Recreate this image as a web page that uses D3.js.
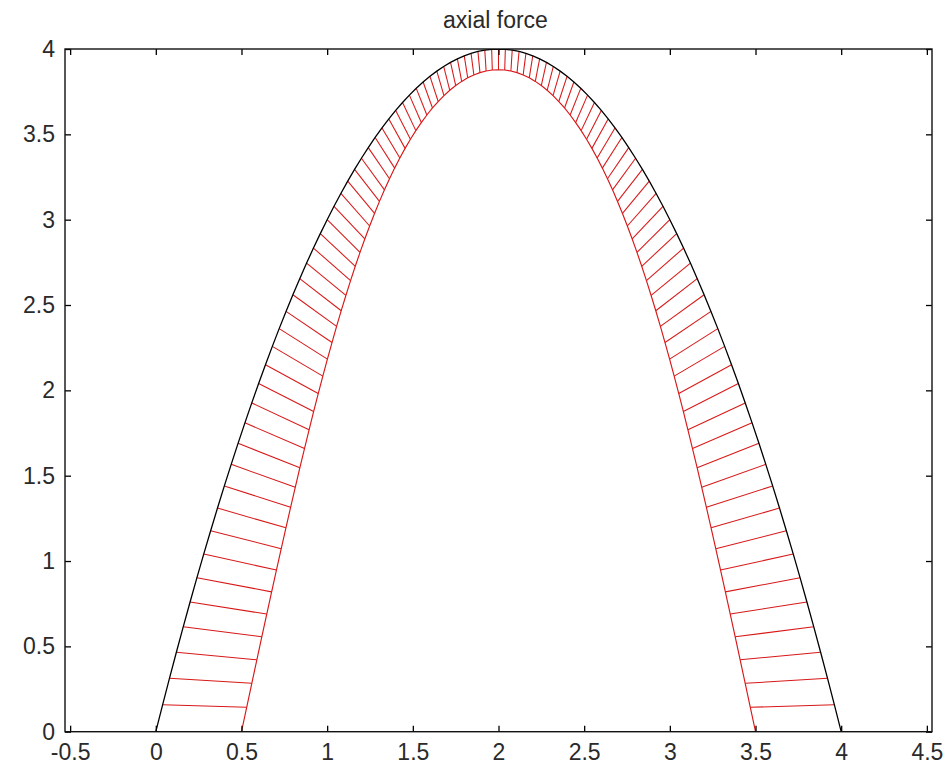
<!DOCTYPE html>
<html>
<head>
<meta charset="utf-8">
<script src="https://cdn.jsdelivr.net/npm/d3@7"></script>
<style>
  html, body { margin: 0; background: #fff; }
  svg { display: block; font-family: Arial, "Liberation Sans", Helvetica, sans-serif; }
</style>
</head>
<body>
<svg id="chart" width="948" height="770"></svg>
<script>
// Parabolic arch centre line, sampled every 0.04 along the span
const archX = [
  0.00, 0.04, 0.08, 0.12, 0.16, 0.20, 0.24, 0.28, 0.32, 0.36,
  0.40, 0.44, 0.48, 0.52, 0.56, 0.60, 0.64, 0.68, 0.72, 0.76,
  0.80, 0.84, 0.88, 0.92, 0.96, 1.00, 1.04, 1.08, 1.12, 1.16,
  1.20, 1.24, 1.28, 1.32, 1.36, 1.40, 1.44, 1.48, 1.52, 1.56,
  1.60, 1.64, 1.68, 1.72, 1.76, 1.80, 1.84, 1.88, 1.92, 1.96,
  2.00, 2.04, 2.08, 2.12, 2.16, 2.20, 2.24, 2.28, 2.32, 2.36,
  2.40, 2.44, 2.48, 2.52, 2.56, 2.60, 2.64, 2.68, 2.72, 2.76,
  2.80, 2.84, 2.88, 2.92, 2.96, 3.00, 3.04, 3.08, 3.12, 3.16,
  3.20, 3.24, 3.28, 3.32, 3.36, 3.40, 3.44, 3.48, 3.52, 3.56,
  3.60, 3.64, 3.68, 3.72, 3.76, 3.80, 3.84, 3.88, 3.92, 3.96,
  4.00
];
const archY = [
  0.0000, 0.1584, 0.3136, 0.4656, 0.6144, 0.7600, 0.9024, 1.0416, 1.1776, 1.3104,
  1.4400, 1.5664, 1.6896, 1.8096, 1.9264, 2.0400, 2.1504, 2.2576, 2.3616, 2.4624,
  2.5600, 2.6544, 2.7456, 2.8336, 2.9184, 3.0000, 3.0784, 3.1536, 3.2256, 3.2944,
  3.3600, 3.4224, 3.4816, 3.5376, 3.5904, 3.6400, 3.6864, 3.7296, 3.7696, 3.8064,
  3.8400, 3.8704, 3.8976, 3.9216, 3.9424, 3.9600, 3.9744, 3.9856, 3.9936, 3.9984,
  4.0000, 3.9984, 3.9936, 3.9856, 3.9744, 3.9600, 3.9424, 3.9216, 3.8976, 3.8704,
  3.8400, 3.8064, 3.7696, 3.7296, 3.6864, 3.6400, 3.5904, 3.5376, 3.4816, 3.4224,
  3.3600, 3.2944, 3.2256, 3.1536, 3.0784, 3.0000, 2.9184, 2.8336, 2.7456, 2.6544,
  2.5600, 2.4624, 2.3616, 2.2576, 2.1504, 2.0400, 1.9264, 1.8096, 1.6896, 1.5664,
  1.4400, 1.3104, 1.1776, 1.0416, 0.9024, 0.7600, 0.6144, 0.4656, 0.3136, 0.1584,
  0.0000
];
// Axial force at each station (scaled so the supports read 0.5)
const axialForce = [
  0.5000, 0.4906, 0.4812, 0.4718, 0.4625, 0.4531, 0.4438, 0.4344, 0.4251, 0.4159,
  0.4066, 0.3973, 0.3881, 0.3789, 0.3697, 0.3606, 0.3514, 0.3424, 0.3333, 0.3243,
  0.3153, 0.3064, 0.2975, 0.2887, 0.2799, 0.2712, 0.2625, 0.2540, 0.2455, 0.2371,
  0.2288, 0.2206, 0.2126, 0.2047, 0.1970, 0.1894, 0.1821, 0.1750, 0.1681, 0.1615,
  0.1553, 0.1494, 0.1440, 0.1390, 0.1345, 0.1306, 0.1273, 0.1247, 0.1228, 0.1217,
  0.1213, 0.1217, 0.1228, 0.1247, 0.1273, 0.1306, 0.1345, 0.1390, 0.1440, 0.1494,
  0.1553, 0.1615, 0.1681, 0.1750, 0.1821, 0.1894, 0.1970, 0.2047, 0.2126, 0.2206,
  0.2288, 0.2371, 0.2455, 0.2540, 0.2625, 0.2712, 0.2799, 0.2887, 0.2975, 0.3064,
  0.3153, 0.3243, 0.3333, 0.3424, 0.3514, 0.3606, 0.3697, 0.3789, 0.3881, 0.3973,
  0.4066, 0.4159, 0.4251, 0.4344, 0.4438, 0.4531, 0.4625, 0.4718, 0.4812, 0.4906,
  0.5000
];
const xTicks = [-0.5, 0, 0.5, 1, 1.5, 2, 2.5, 3, 3.5, 4, 4.5];
const yTicks = [0, 0.5, 1, 1.5, 2, 2.5, 3, 3.5, 4];
const titleText = "axial force";

const svg = d3.select("#chart");
const plot = { left: 65, right: 932, top: 49, bottom: 731.7 };

const x = d3.scaleLinear().domain([-0.53, 4.53]).range([plot.left, plot.right]);
const y = d3.scaleLinear().domain([0, 4]).range([plot.bottom, plot.top]);
// direction of the force ordinates: horizontal at the supports, vertical at the crown
const ordinateAngle = d3.scaleLinear().domain([0, 4]).range([0, Math.PI]);

const stations = archX.map((xv, i) => {
  const a = ordinateAngle(xv);
  const n = axialForce[i];
  return {
    x0: xv, y0: archY[i],
    x1: xv + n * Math.cos(a), y1: archY[i] - n * Math.sin(a)
  };
});

svg.append("defs").append("clipPath").attr("id", "plotClip")
  .append("rect")
  .attr("x", plot.left).attr("y", plot.top)
  .attr("width", plot.right - plot.left).attr("height", plot.bottom - plot.top);

const g = svg.append("g").attr("clip-path", "url(#plotClip)");

// force ordinates
g.append("g").selectAll("line").data(stations).join("line")
  .attr("x1", d => x(d.x0)).attr("y1", d => y(d.y0))
  .attr("x2", d => x(d.x1)).attr("y2", d => y(d.y1))
  .attr("stroke", "#d81818").attr("stroke-width", 1.05);

// outline of the force diagram
g.append("path").datum(stations)
  .attr("fill", "none").attr("stroke", "#d81818").attr("stroke-width", 1.15)
  .attr("d", d3.line().x(d => x(d.x1)).y(d => y(d.y1)));

// arch
g.append("path").datum(stations)
  .attr("fill", "none").attr("stroke", "#000").attr("stroke-width", 1.3)
  .attr("d", d3.line().x(d => x(d.x0)).y(d => y(d.y0)));

// axes
const tickLen = 6;
const fmt = d => String(d);
const styleAxis = sel => {
  sel.select(".domain").remove();
  sel.selectAll(".tick line").attr("stroke", "#000").attr("stroke-width", 1.3);
  sel.selectAll(".tick text").attr("fill", "#2a2a2a").style("font-size", "23px");
};

svg.append("g").attr("transform", `translate(0,${plot.bottom})`)
  .call(d3.axisBottom(x).tickValues(xTicks).tickSize(-tickLen).tickPadding(12).tickFormat(fmt))
  .call(styleAxis);
svg.append("g").attr("transform", `translate(0,${plot.top})`)
  .call(d3.axisTop(x).tickValues(xTicks).tickSize(-tickLen).tickFormat(""))
  .call(styleAxis);
svg.append("g").attr("transform", `translate(${plot.left},0)`)
  .call(d3.axisLeft(y).tickValues(yTicks).tickSize(-tickLen).tickPadding(10).tickFormat(fmt))
  .call(styleAxis);
svg.append("g").attr("transform", `translate(${plot.right},0)`)
  .call(d3.axisRight(y).tickValues(yTicks).tickSize(-tickLen).tickFormat(""))
  .call(styleAxis);

svg.selectAll(".tick text").attr("font-family", null);

// frame
svg.append("rect")
  .attr("x", plot.left).attr("y", plot.top)
  .attr("width", plot.right - plot.left).attr("height", plot.bottom - plot.top)
  .attr("fill", "none").attr("stroke", "#111").attr("stroke-width", 1.4);

svg.append("text")
  .attr("x", (plot.left + plot.right) / 2 - 3).attr("y", 28)
  .attr("text-anchor", "middle")
  .attr("fill", "#2a2a2a").style("font-size", "23px")
  .text(titleText);
</script>
</body>
</html>
